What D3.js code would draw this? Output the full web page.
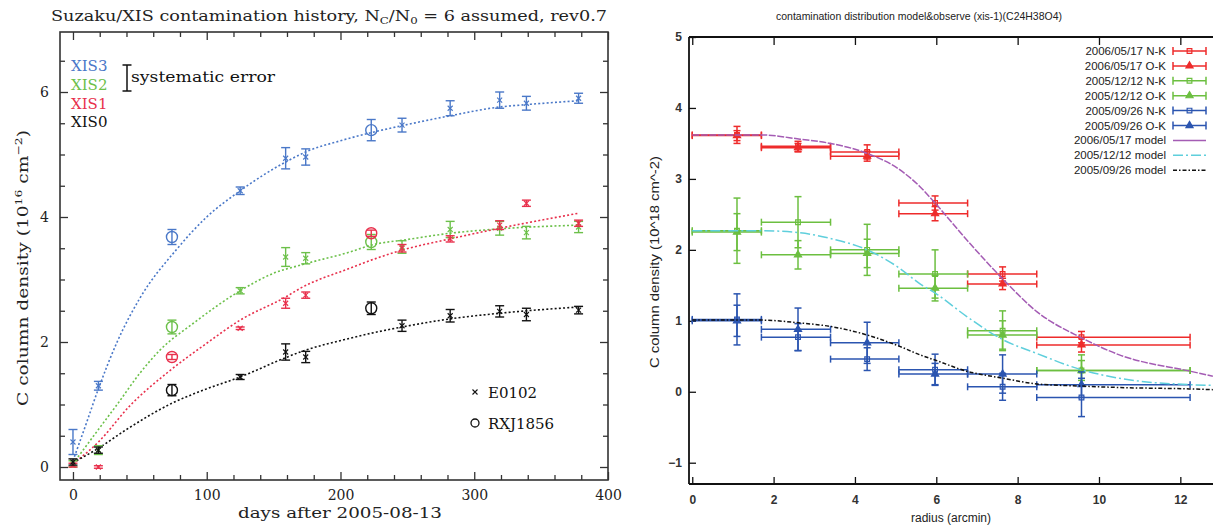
<!DOCTYPE html>
<html lang="en">
<head>
<meta charset="utf-8" />
<title>Suzaku/XIS contamination</title>
<style>
  * {margin: 0; padding: 0;}
  body {background: #fff;}
  svg {display: block;}
  .serif {font-family: "DejaVu Serif", "Liberation Serif", serif;}
  .sans {font-family: "Liberation Sans", Arial, sans-serif;}
</style>
</head>
<body>
<div id="viz"></div>
<script src="https://cdn.jsdelivr.net/npm/d3@7"></script>
<script>

// ---- left panel data : days after 2005-08-13 ----
var days = [0, 19, 74, 125, 159, 174, 223, 246, 282, 319, 339, 378];
var rxjDays = [74, 223];            // RXJ1856 points (circles), others are E0102

var xis3    = [0.40, 1.30, 3.68, 4.42, 4.94, 4.96, 5.39, 5.47, 5.74, 5.87, 5.82, 5.90];
var xis3Err = [0.20, 0.07, 0.12, 0.06, 0.17, 0.13, 0.17, 0.11, 0.12, 0.13, 0.11, 0.08];
var xis2    = [0.05, 0.27, 2.24, 2.82, 3.36, 3.34, 3.60, 3.52, 3.80, 3.82, 3.75, 3.84];
var xis2Err = [0.05, 0.07, 0.11, 0.05, 0.15, 0.09, 0.12, 0.10, 0.13, 0.11, 0.10, 0.09];
var xis1    = [0.03, 0.00, 1.76, 2.22, 2.62, 2.75, 3.74, 3.50, 3.65, 3.87, 4.22, 3.90];
var xis1Err = [0.03, 0.02, 0.04, 0.02, 0.08, 0.05, 0.05, 0.06, 0.05, 0.07, 0.05, 0.05];
var xis0    = [0.08, 0.27, 1.23, 1.44, 1.84, 1.76, 2.54, 2.26, 2.42, 2.49, 2.44, 2.51];
var xis0Err = [0.05, 0.05, 0.09, 0.04, 0.13, 0.09, 0.10, 0.09, 0.10, 0.09, 0.10, 0.06];

// model curves, [day, value]
var modelXIS3 = [[0,0.1],[10,0.7],[19,1.25],[33,2.0],[50,2.7],[77,3.47],[100,4.0],[125,4.42],
                 [159,4.88],[175,5.05],[200,5.22],[225,5.36],[250,5.48],[282,5.62],[319,5.76],[340,5.8],[378,5.86]];
var modelXIS2 = [[0,0.05],[19,0.6],[33,1.0],[50,1.5],[65,1.87],[90,2.3],[125,2.82],[150,3.1],
                 [170,3.23],[207,3.44],[223,3.55],[250,3.64],[282,3.74],[319,3.81],[378,3.87]];
var modelXIS1 = [[0,0.05],[19,0.4],[43,0.99],[70,1.5],[100,1.98],[125,2.35],[159,2.72],[170,2.86],
                 [207,3.18],[223,3.31],[246,3.47],[282,3.65],[319,3.82],[378,4.06]];
var modelXIS0 = [[0,0.07],[19,0.3],[40,0.6],[74,1.02],[100,1.25],[125,1.44],[159,1.75],[170,1.84],
                 [207,2.06],[223,2.14],[246,2.24],[282,2.37],[319,2.46],[378,2.56]];

var xTicksL = [0, 100, 200, 300, 400];
var yTicksL = [0, 2, 4, 6];

// ---- right panel data : radius (arcmin) ----
var radius = [1.1, 2.6, 4.3, 5.97, 7.63, 9.57];
var binLo  = [0, 1.7, 3.4, 5.08, 6.77, 8.47];
var binHi  = [1.7, 3.4, 5.08, 6.77, 8.47, 12.24];

var nk0517 = [3.62, 3.46, 3.38, 2.66, 1.66, 0.77], nk0517Err = [0.12, 0.07, 0.10, 0.10, 0.10, 0.08];
var ok0517 = [3.61, 3.44, 3.32, 2.51, 1.52, 0.66], ok0517Err = [0.07, 0.06, 0.07, 0.10, 0.08, 0.10];
var nk1212 = [2.27, 2.39, 2.00, 1.66, 0.86, 0.30], nk1212Err = [0.46, 0.36, 0.36, 0.34, 0.28, 0.22];
var ok1212 = [2.25, 1.93, 1.95, 1.46, 0.80, 0.30], ok1212Err = [0.26, 0.20, 0.20, 0.18, 0.20, 0.14];
var nk0926 = [1.02, 0.77, 0.46, 0.31, 0.07, -0.08], nk0926Err = [0.36, 0.19, 0.16, 0.22, 0.19, 0.27];
var ok0926 = [1.00, 0.88, 0.69, 0.25, 0.25, 0.10], ok0926Err = [0.22, 0.30, 0.29, 0.15, 0.27, 0.18];

var model0517 = [[0,3.62],[1.7,3.62],[2.65,3.56],[3.4,3.5],[4.3,3.36],[5.1,3.13],[5.6,2.89],[5.97,2.66],
                 [6.75,2.14],[7.65,1.58],[8.47,1.13],[9.57,0.76],[10.5,0.52],[12.24,0.29],[12.8,0.22]];
var model1212 = [[0,2.27],[1.7,2.27],[2.65,2.24],[3.4,2.16],[4.3,2.0],[5.1,1.74],[5.6,1.52],[6.0,1.38],
                 [6.75,1.06],[7.65,0.73],[8.47,0.54],[9.57,0.31],[10.5,0.19],[12.24,0.1],[12.8,0.09]];
var model0926 = [[0,1.01],[1.7,1.01],[2.65,0.97],[3.4,0.92],[4.3,0.8],[5.1,0.64],[5.6,0.52],[6.0,0.44],
                 [6.75,0.29],[7.65,0.19],[8.47,0.11],[9.57,0.08],[10.5,0.06],[12.24,0.04],[12.8,0.03]];

var xTicksR = [0, 2, 4, 6, 8, 10, 12];
var yTicksR = [-1, 0, 1, 2, 3, 4, 5];

var svg = d3.select("#viz").append("svg").attr("width", 1213).attr("height", 529);

// =================== left panel ===================
var L = svg.append("g").attr("class", "serif");
var xL = d3.scaleLinear().domain([-9.7, 400]).range([60, 608]);
var yL = d3.scaleLinear().domain([-0.208, 6.96]).range([480, 32]);

function minor(lo, hi, step, skip) {
    return d3.range(lo, hi + 1e-9, step).filter(function(v){ return Math.abs(v / skip - Math.round(v / skip)) > 1e-6; });
}
function axisOn(g, axis, tr) {
    var a = g.append("g").attr("transform", tr).call(axis);
    a.select(".domain").remove();
    return a;
}

axisOn(L, d3.axisBottom(xL).tickValues(xTicksL).tickSize(-8).tickPadding(10), "translate(0,480)");
axisOn(L, d3.axisBottom(xL).tickValues(minor(0, 400, 20, 100)).tickSize(-5).tickFormat(""), "translate(0,480)");
axisOn(L, d3.axisTop(xL).tickValues(xTicksL).tickSize(-8).tickFormat(""), "translate(0,32)");
axisOn(L, d3.axisTop(xL).tickValues(minor(0, 400, 20, 100)).tickSize(-5).tickFormat(""), "translate(0,32)");
axisOn(L, d3.axisLeft(yL).tickValues(yTicksL).tickSize(-8).tickPadding(11), "translate(60,0)");
axisOn(L, d3.axisLeft(yL).tickValues(minor(0, 6.5, 0.5, 2)).tickSize(-5).tickFormat(""), "translate(60,0)");
axisOn(L, d3.axisRight(yL).tickValues(yTicksL).tickSize(-8).tickFormat(""), "translate(608,0)");
axisOn(L, d3.axisRight(yL).tickValues(minor(0, 6.5, 0.5, 2)).tickSize(-5).tickFormat(""), "translate(608,0)");
L.selectAll(".tick line").attr("stroke", "#333").attr("stroke-width", 1.3);
L.selectAll(".tick text").attr("font-family", "DejaVu Serif").attr("font-size", 14).attr("fill", "#222");

L.append("rect").attr("x", 60).attr("y", 32).attr("width", 548).attr("height", 448)
    .attr("fill", "none").attr("stroke", "#333").attr("stroke-width", 1.6);

var seriesL = [
    {name: "XIS3", color: "#4a78c8", vals: xis3, err: xis3Err, model: modelXIS3},
    {name: "XIS2", color: "#6cc04a", vals: xis2, err: xis2Err, model: modelXIS2},
    {name: "XIS1", color: "#e8304c", vals: xis1, err: xis1Err, model: modelXIS1},
    {name: "XIS0", color: "#111111", vals: xis0, err: xis0Err, model: modelXIS0}
];

var lineL = d3.line().x(function(d){ return xL(d[0]); }).y(function(d){ return yL(d[1]); })
    .curve(d3.curveMonotoneX);

seriesL.forEach(function(s) {
    L.append("path").datum(s.model).attr("d", lineL).attr("fill", "none")
        .attr("stroke", s.color).attr("stroke-width", 1.6).attr("stroke-dasharray", "2,2.2");
});

seriesL.forEach(function(s) {
    var g = L.append("g").attr("stroke", s.color).attr("fill", "none").attr("stroke-width", 1.4);
    days.forEach(function(d, i) {
        var cx = xL(d), v = s.vals[i], e = s.err[i];
        var y1 = yL(v + e), y2 = yL(v - e);
        g.append("line").attr("x1", cx).attr("x2", cx).attr("y1", y1).attr("y2", y2);
        g.append("line").attr("x1", cx - 4.5).attr("x2", cx + 4.5).attr("y1", y1).attr("y2", y1);
        g.append("line").attr("x1", cx - 4.5).attr("x2", cx + 4.5).attr("y1", y2).attr("y2", y2);
        if (rxjDays.indexOf(d) >= 0) {
            g.append("circle").attr("cx", cx).attr("cy", yL(v)).attr("r", 5.5);
        } else {
            g.append("path").attr("transform", "translate(" + cx + "," + yL(v) + ")")
                .attr("d", "M-2.5,-2.5L2.5,2.5M-2.5,2.5L2.5,-2.5").attr("stroke-width", 1.1);
        }
    });
});

// title
var tl = L.append("text").attr("x", 51).attr("y", 21).attr("font-size", 15).attr("fill", "#222")
    .attr("textLength", 556).attr("lengthAdjust", "spacingAndGlyphs");
tl.append("tspan").text("Suzaku/XIS contamination history, N");
tl.append("tspan").attr("font-size", 10).attr("dy", 3).text("C");
tl.append("tspan").attr("dy", -3).text("/N");
tl.append("tspan").attr("font-size", 10).attr("dy", 3).text("0");
tl.append("tspan").attr("dy", -3).text(" = 6 assumed, rev0.7");

// axis labels
L.append("text").attr("x", 340).attr("y", 518).attr("text-anchor", "middle").attr("font-size", 15)
    .attr("fill", "#222").attr("textLength", 204).attr("lengthAdjust", "spacingAndGlyphs")
    .text("days after 2005-08-13");
var yl = L.append("text").attr("transform", "translate(28,268) rotate(-90)").attr("text-anchor", "middle")
    .attr("font-size", 15).attr("fill", "#222").attr("textLength", 276).attr("lengthAdjust", "spacingAndGlyphs");
yl.append("tspan").text("C column density (10");
yl.append("tspan").attr("font-size", 10).attr("dy", -6).text("16");
yl.append("tspan").attr("dy", 6).text(" cm");
yl.append("tspan").attr("font-size", 10).attr("dy", -6).text("−2");
yl.append("tspan").attr("dy", 6).text(")");

// legend
seriesL.forEach(function(s, i) {
    L.append("text").attr("x", 71).attr("y", 71 + i * 18.8).attr("font-size", 15)
        .attr("fill", s.color).text(s.name);
});
var sg = L.append("g").attr("stroke", "#111").attr("stroke-width", 1.5);
sg.append("line").attr("x1", 127).attr("x2", 127).attr("y1", 65).attr("y2", 91);
sg.append("line").attr("x1", 122.5).attr("x2", 131.5).attr("y1", 65).attr("y2", 65);
sg.append("line").attr("x1", 122.5).attr("x2", 131.5).attr("y1", 91).attr("y2", 91);
L.append("text").attr("x", 131).attr("y", 82).attr("font-size", 15).attr("fill", "#111")
    .attr("textLength", 144).attr("lengthAdjust", "spacingAndGlyphs").text("systematic error");

L.append("path").attr("transform", "translate(475,392)").attr("d", "M-2.5,-2.5L2.5,2.5M-2.5,2.5L2.5,-2.5")
    .attr("stroke", "#111").attr("stroke-width", 1.1);
L.append("text").attr("x", 488).attr("y", 398).attr("font-size", 15).attr("fill", "#111").text("E0102");
L.append("circle").attr("cx", 475).attr("cy", 423).attr("r", 4).attr("fill", "none")
    .attr("stroke", "#111").attr("stroke-width", 1.3);
L.append("text").attr("x", 488).attr("y", 429).attr("font-size", 15).attr("fill", "#111").text("RXJ1856");

// =================== right panel ===================
var R = svg.append("g").attr("class", "sans");
var xR = d3.scaleLinear().domain([-0.08, 13]).range([689, 1221]);
var yR = d3.scaleLinear().domain([-1.3, 5]).range([484, 37]);

axisOn(R, d3.axisBottom(xR).tickValues(xTicksR).tickSize(-7).tickPadding(11).tickFormat(d3.format("d")), "translate(0,484)");
axisOn(R, d3.axisTop(xR).tickValues(xTicksR).tickSize(-8).tickFormat(""), "translate(0,37)");
axisOn(R, d3.axisLeft(yR).tickValues(yTicksR).tickSize(-7).tickPadding(7).tickFormat(d3.format("d")), "translate(689,0)");
R.selectAll(".tick line").attr("stroke", "#111").attr("stroke-width", 1.3);
R.selectAll(".tick text").attr("font-family", "Liberation Sans, Arial").attr("font-size", 12)
    .attr("font-weight", "bold").attr("fill", "#333");

var fr = R.append("g").attr("stroke", "#111").attr("stroke-width", 1.8);
fr.append("line").attr("x1", xR.range()[0]).attr("x2", xR.range()[1]).attr("y1", 37).attr("y2", 37);
fr.append("line").attr("x1", xR.range()[0]).attr("x2", xR.range()[1]).attr("y1", 484).attr("y2", 484);
fr.append("line").attr("x1", 689).attr("x2", 689).attr("y1", 37).attr("y2", 484);

var lineR = d3.line().x(function(d){ return xR(d[0]); }).y(function(d){ return yR(d[1]); })
    .curve(d3.curveMonotoneX);

var modelsR = [
    {name: "2006/05/17 model", color: "#a45cb4", data: model0517, dash: null},
    {name: "2005/12/12 model", color: "#5fcfdc", data: model1212, dash: "10,3,2,3"},
    {name: "2005/09/26 model", color: "#111111", data: model0926, dash: "4,2,1.5,2"}
];

var obsR = [
    {name: "2006/05/17 N-K", color: "#ee2b2b", vals: nk0517, err: nk0517Err, sym: "sq"},
    {name: "2006/05/17 O-K", color: "#ee2b2b", vals: ok0517, err: ok0517Err, sym: "tri"},
    {name: "2005/12/12 N-K", color: "#6cbf40", vals: nk1212, err: nk1212Err, sym: "sq"},
    {name: "2005/12/12 O-K", color: "#6cbf40", vals: ok1212, err: ok1212Err, sym: "tri"},
    {name: "2005/09/26 N-K", color: "#2b55b0", vals: nk0926, err: nk0926Err, sym: "sq"},
    {name: "2005/09/26 O-K", color: "#2b55b0", vals: ok0926, err: ok0926Err, sym: "tri"}
];

var triPath = d3.symbol().type(d3.symbolTriangle).size(22)();
var sqPath = d3.symbol().type(d3.symbolSquare).size(22)();

function marker(g, sym, cx, cy, color) {
    g.append("path").attr("transform", "translate(" + cx + "," + cy + ")")
        .attr("d", sym === "tri" ? triPath : sqPath)
        .attr("fill", sym === "tri" ? color : "none").attr("stroke", color).attr("stroke-width", 1.2);
}

obsR.forEach(function(s) {
    var g = R.append("g").attr("stroke", s.color).attr("stroke-width", 1.5);
    radius.forEach(function(r, i) {
        var cx = xR(r), cy = yR(s.vals[i]);
        var y1 = yR(s.vals[i] + s.err[i]), y2 = yR(s.vals[i] - s.err[i]);
        var xa = xR(binLo[i]), xb = xR(binHi[i]);
        g.append("line").attr("x1", xa).attr("x2", xb).attr("y1", cy).attr("y2", cy);
        g.append("line").attr("x1", xa).attr("x2", xa).attr("y1", cy - 3.5).attr("y2", cy + 3.5);
        g.append("line").attr("x1", xb).attr("x2", xb).attr("y1", cy - 3.5).attr("y2", cy + 3.5);
        g.append("line").attr("x1", cx).attr("x2", cx).attr("y1", y1).attr("y2", y2);
        g.append("line").attr("x1", cx - 3.5).attr("x2", cx + 3.5).attr("y1", y1).attr("y2", y1);
        g.append("line").attr("x1", cx - 3.5).attr("x2", cx + 3.5).attr("y1", y2).attr("y2", y2);
        marker(g, s.sym, cx, cy, s.color);
    });
});

modelsR.forEach(function(m) {
    R.append("path").datum(m.data).attr("d", lineR).attr("fill", "none")
        .attr("stroke", m.color).attr("stroke-width", 1.5)
        .attr("stroke-dasharray", m.dash || "7,1.5");
});

// legend
var legR = R.append("g");
obsR.concat(modelsR).forEach(function(s, i) {
    var ly = 51 + i * 14.9;
    legR.append("text").attr("x", 1166).attr("y", ly + 4).attr("text-anchor", "end")
        .attr("font-size", 11.5).attr("fill", "#222").text(s.name);
    var g = legR.append("g").attr("stroke", s.color).attr("stroke-width", 1.5);
    g.append("line").attr("x1", 1173).attr("x2", 1206).attr("y1", ly).attr("y2", ly)
        .attr("stroke-dasharray", s.dash || null);
    if (s.sym) {
        g.append("line").attr("x1", 1173).attr("x2", 1173).attr("y1", ly - 4).attr("y2", ly + 4);
        g.append("line").attr("x1", 1206).attr("x2", 1206).attr("y1", ly - 4).attr("y2", ly + 4);
        marker(g, s.sym, 1189.5, ly, s.color);
    }
});

// titles
R.append("text").attr("x", 919).attr("y", 20).attr("text-anchor", "middle").attr("font-size", 11.5)
    .attr("fill", "#222").attr("textLength", 286).attr("lengthAdjust", "spacingAndGlyphs")
    .text("contamination distribution model&observe (xis-1)(C24H38O4)");
R.append("text").attr("x", 951).attr("y", 522).attr("text-anchor", "middle").attr("font-size", 12)
    .attr("fill", "#222").text("radius (arcmin)");
R.append("text").attr("transform", "translate(659,262) rotate(-90)").attr("text-anchor", "middle")
    .attr("font-size", 12).attr("fill", "#222").attr("textLength", 212).attr("lengthAdjust", "spacingAndGlyphs")
    .text("C column density (10^18 cm^-2)");
</script>
</body>
</html>
